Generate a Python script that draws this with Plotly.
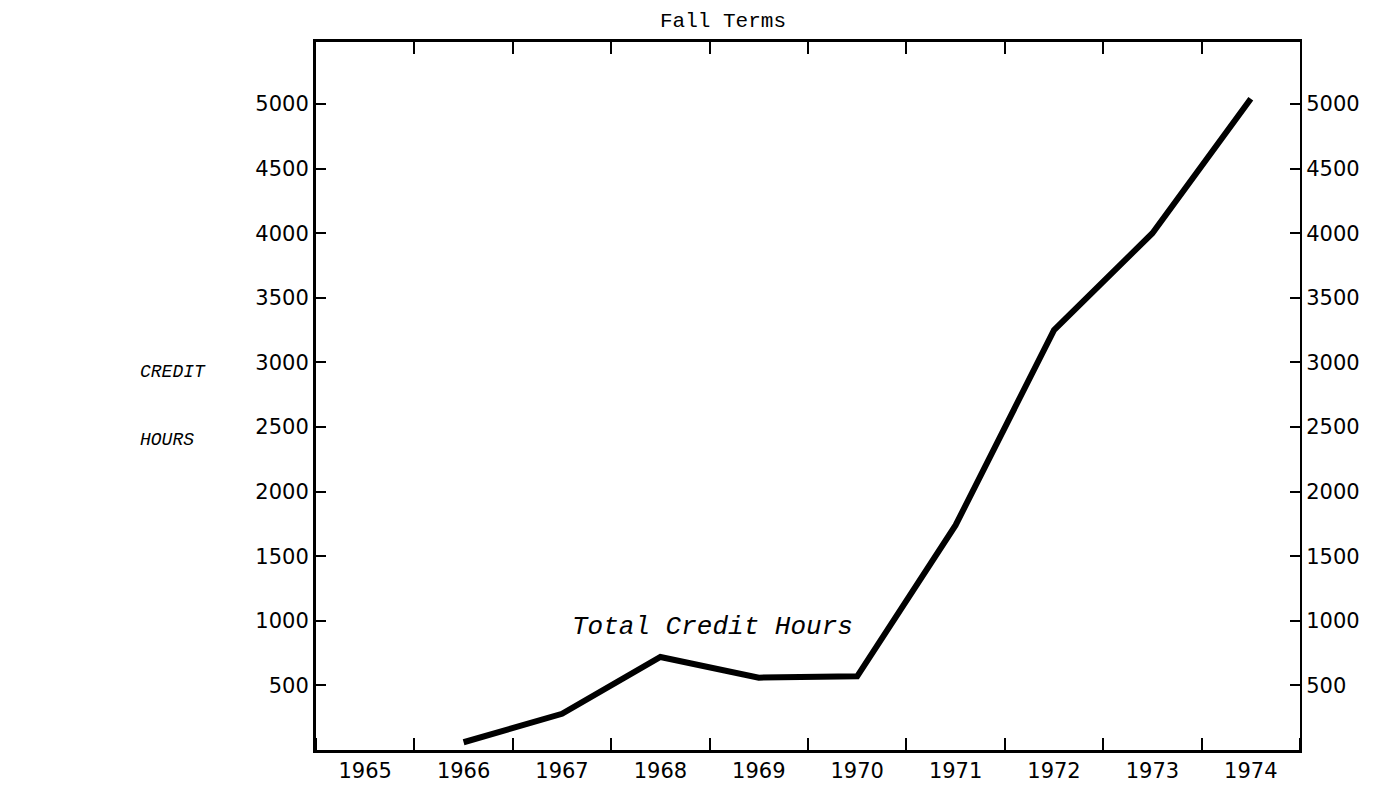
import plotly.graph_objects as go

years = [1965, 1966, 1967, 1968, 1969, 1970, 1971, 1972, 1973, 1974]
year_labels = [str(y) for y in years]
data_years = [1966, 1967, 1968, 1969, 1970, 1971, 1972, 1973, 1974]
credit_hours = [60, 280, 720, 560, 570, 1740, 3250, 4000, 5040]
y_ticks = [500, 1000, 1500, 2000, 2500, 3000, 3500, 4000, 4500, 5000]
y_tick_labels = [str(v) for v in y_ticks]

boundaries = [y - 0.5 for y in years] + [years[-1] + 0.5]

tick_font = dict(family="DejaVu Sans, sans-serif", size=21, color="black")
mono = "Liberation Mono, DejaVu Sans Mono, monospace"

W, H = 1395, 798
L, R, T, B = 308, 103, 34, 56

fig = go.Figure()
fig.add_trace(go.Scatter(x=data_years, y=credit_hours, mode="lines",
                         line=dict(color="black", width=6), showlegend=False,
                         hoverinfo="skip"))
fig.add_trace(go.Scatter(x=data_years, y=credit_hours, mode="lines",
                         xaxis="x2", yaxis="y2",
                         line=dict(color="rgba(0,0,0,0)", width=0), showlegend=False,
                         hoverinfo="skip"))

xr = [years[0] - 0.5, years[-1] + 0.5]
yr = [0, 5480]

fig.update_layout(
    width=W, height=H,
    margin=dict(l=L, r=R, t=T, b=B, autoexpand=False),
    paper_bgcolor="white", plot_bgcolor="white",
    xaxis=dict(range=xr, tickvals=years, ticktext=year_labels, ticks="",
               minor=dict(tickvals=boundaries, ticks="inside", ticklen=12,
                          tickwidth=2, tickcolor="black", showgrid=False),
               showline=True, linewidth=3, linecolor="black",
               showgrid=False, zeroline=False, tickfont=tick_font,
               automargin=False),
    xaxis2=dict(range=xr, overlaying="x", side="top", tickvals=boundaries,
                showticklabels=False, ticks="inside", ticklen=12, tickwidth=2,
                tickcolor="black", showline=True, linewidth=3, linecolor="black",
                showgrid=False, zeroline=False, automargin=False),
    yaxis=dict(range=yr, tickvals=y_ticks, ticktext=y_tick_labels,
               ticks="inside", ticklen=10, tickwidth=2, tickcolor="black",
               showline=True, linewidth=3, linecolor="black",
               showgrid=False, zeroline=False, tickfont=tick_font,
               automargin=False),
    yaxis2=dict(range=yr, tickvals=y_ticks, ticktext=y_tick_labels,
                overlaying="y", side="right",
                ticks="inside", ticklen=10, tickwidth=2, tickcolor="black",
                showline=True, linewidth=2, linecolor="black",
                showgrid=False, zeroline=False, tickfont=tick_font,
                automargin=False),
)

pw = W - L - R
ph = H - T - B


def px_to_paper(px, py):
    return (px - L) / pw, 1 - (py - T) / ph


annotations = []
fx, fy = px_to_paper(715, 14)
annotations.append(dict(text="Fall Terms", x=fx, y=fy, xref="paper", yref="paper",
                        xanchor="center", yanchor="middle", showarrow=False,
                        font=dict(family=mono, size=21, color="black")))
annotations.append(dict(text="<i>Total Credit Hours</i>", x=1968.53, y=950,
                        xref="x", yref="y", xanchor="center", yanchor="middle",
                        showarrow=False,
                        font=dict(family=mono, size=26, color="black")))
for txt, (px, py) in [("<i>CREDIT</i>", (130, 364)), ("<i>HOURS</i>", (130, 432))]:
    ax, ay = px_to_paper(px, py)
    annotations.append(dict(text=txt, x=ax, y=ay, xref="paper", yref="paper",
                            xanchor="left", yanchor="middle", showarrow=False,
                            font=dict(family=mono, size=18, color="black")))
fig.update_layout(annotations=annotations)

fig.write_html("out.html")
